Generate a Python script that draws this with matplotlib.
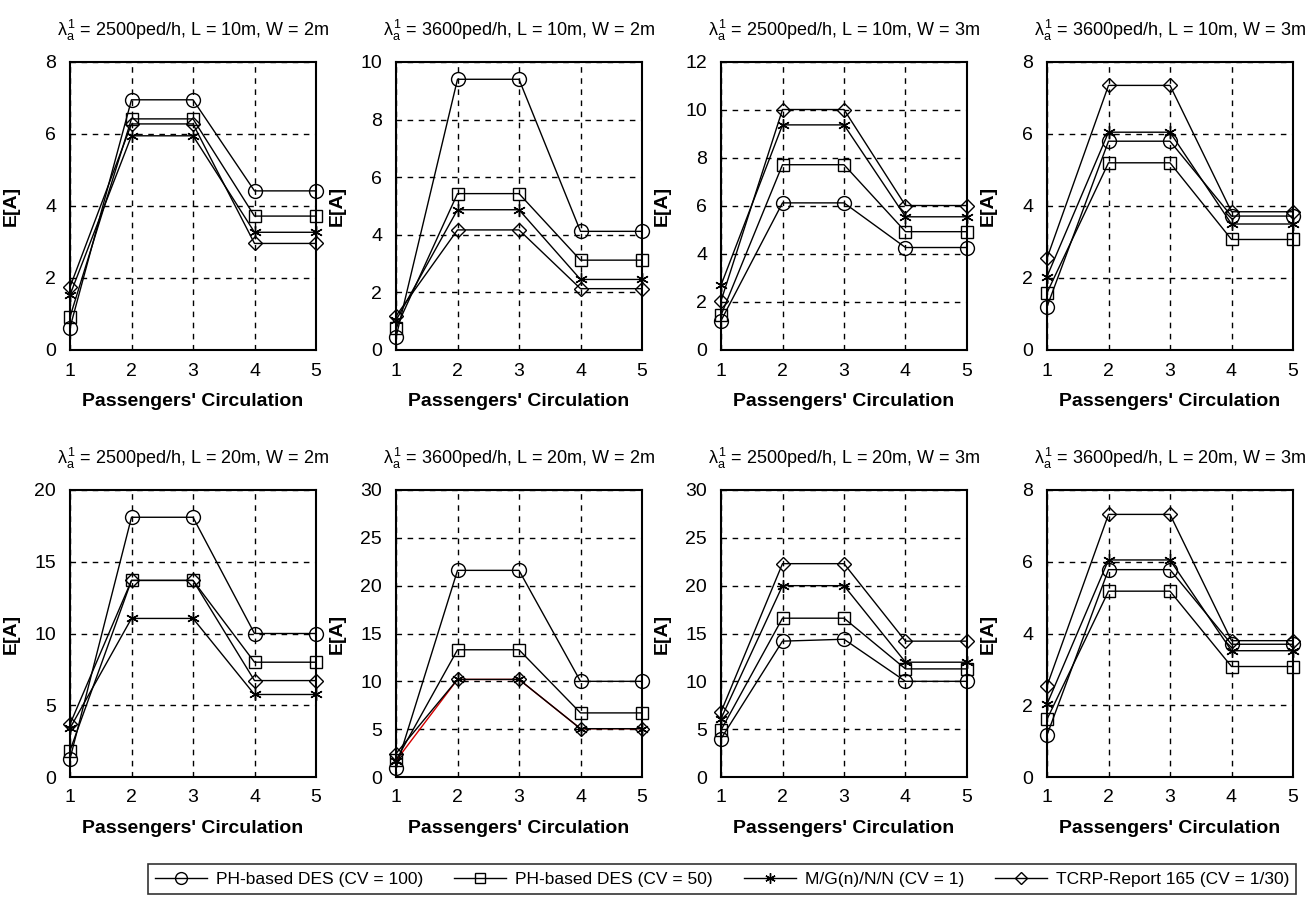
import matplotlib
matplotlib.use("Agg")
import matplotlib.pyplot as plt
from matplotlib.lines import Line2D

plt.rcParams['font.family'] = ['Liberation Sans', 'DejaVu Sans']
plt.rcParams['mathtext.fontset'] = 'custom'
plt.rcParams['mathtext.rm'] = 'Liberation Sans'
plt.rcParams['mathtext.it'] = 'Liberation Sans'

x = [1, 2, 3, 4, 5]
titles = [
    r"$\lambda_a^1$ = 2500ped/h, L = 10m, W = 2m",
    r"$\lambda_a^1$ = 3600ped/h, L = 10m, W = 2m",
    r"$\lambda_a^1$ = 2500ped/h, L = 10m, W = 3m",
    r"$\lambda_a^1$ = 3600ped/h, L = 10m, W = 3m",
    r"$\lambda_a^1$ = 2500ped/h, L = 20m, W = 2m",
    r"$\lambda_a^1$ = 3600ped/h, L = 20m, W = 2m",
    r"$\lambda_a^1$ = 2500ped/h, L = 20m, W = 3m",
    r"$\lambda_a^1$ = 3600ped/h, L = 20m, W = 3m",
]
ymax = [8, 10, 12, 8, 20, 30, 30, 8]
ystep = [2, 2, 2, 2, 5, 5, 5, 2]

series_names = ["PH-based DES (CV = 100)", "PH-based DES (CV = 50)",
                "M/G(n)/N/N (CV = 1)", "TCRP-Report 165 (CV = 1/30)"]

ph100 = [
    [0.62, 6.95, 6.95, 4.42, 4.42],
    [0.44, 9.40, 9.40, 4.12, 4.12],
    [1.22, 6.13, 6.13, 4.27, 4.27],
    [1.20, 5.80, 5.80, 3.72, 3.72],
    [1.26, 18.1, 18.1, 10.0, 10.0],
    [0.95, 21.6, 21.6, 10.0, 10.0],
    [4.0, 14.2, 14.4, 10.0, 10.0],
    [1.17, 5.78, 5.78, 3.70, 3.70],
]
ph50 = [
    [0.92, 6.42, 6.42, 3.72, 3.72],
    [0.75, 5.43, 5.43, 3.12, 3.12],
    [1.45, 7.72, 7.72, 4.93, 4.93],
    [1.59, 5.20, 5.20, 3.07, 3.07],
    [1.84, 13.7, 13.7, 8.0, 8.0],
    [1.74, 13.3, 13.3, 6.7, 6.7],
    [4.9, 16.6, 16.6, 11.3, 11.3],
    [1.61, 5.18, 5.18, 3.08, 3.08],
]
mgnn = [
    [1.53, 5.95, 5.95, 3.27, 3.27],
    [1.03, 4.87, 4.87, 2.45, 2.45],
    [2.70, 9.38, 9.38, 5.55, 5.55],
    [2.04, 6.05, 6.05, 3.50, 3.50],
    [3.40, 11.05, 11.05, 5.75, 5.75],
    [1.70, 10.2, 10.2, 5.05, 5.05],
    [6.1, 20.0, 20.0, 12.0, 12.0],
    [2.03, 6.05, 6.05, 3.52, 3.52],
]
tcrp = [
    [1.75, 6.28, 6.28, 2.96, 2.96],
    [1.18, 4.17, 4.17, 2.13, 2.13],
    [2.04, 10.02, 10.02, 6.02, 6.02],
    [2.55, 7.35, 7.35, 3.84, 3.84],
    [3.68, 13.7, 13.7, 6.72, 6.72],
    [2.45, 10.2, 10.2, 5.05, 5.05],
    [6.8, 22.3, 22.3, 14.2, 14.2],
    [2.54, 7.32, 7.32, 3.80, 3.80],
]

markers = ['o', 's', (6, 2, 0), 'D']
msizes = [10, 9, 9, 7.5]
all_series = [ph100, ph50, mgnn, tcrp]

fig = plt.figure(figsize=(13.09, 8.98), dpi=100)
W, H = 1309.0, 898.0
lefts = [70, 396, 721, 1047]
width = 246
rows = [(62, 350), (490, 777)]

for i in range(8):
    r, c = divmod(i, 4)
    top, bot = rows[r]
    ax = fig.add_axes([lefts[c] / W, 1 - bot / H, width / W, (bot - top) / H])
    for k, data in enumerate(all_series):
        color = 'k'
        z = 3 + k
        if i == 5 and k == 2:
            color = '#d40000'
            z = 2.5
        ax.plot(x, data[i], color=color, lw=1.0, marker=markers[k],
                markersize=msizes[k], markerfacecolor='none',
                markeredgecolor='k', markeredgewidth=1.0,
                clip_on=False, zorder=z)
    ax.set_xlim(1, 5)
    ax.set_ylim(0, ymax[i])
    ax.set_xticks(x)
    ax.set_yticks(range(0, ymax[i] + 1, ystep[i]))
    ax.grid(True, color='k', linestyle=(0, (4, 4)), lw=1.0)
    ax.set_axisbelow(True)
    for s in ax.spines.values():
        s.set_linewidth(1.5)
    ax.tick_params(labelsize=14, length=0)
    ax.tick_params(axis='x', pad=9)
    ax.tick_params(axis='y', pad=10)
    ax.set_title(titles[i], fontsize=13, pad=19)
    ax.set_xlabel("Passengers' Circulation", fontsize=14, fontweight='bold', labelpad=10)
    ax.set_ylabel("E[A]", fontsize=14, fontweight='bold')
    ax.yaxis.set_label_coords(-50 / width, 0.5)

leg_handles = [Line2D([0], [0], color='k', lw=1.0, marker=markers[k], markersize=msizes[k] - 1.5,
                      markerfacecolor='none', markeredgecolor='k') for k in range(4)]
leg = fig.legend(leg_handles, series_names, loc='center',
                 bbox_to_anchor=(722 / W, 1 - 879 / H), ncol=4, frameon=True,
                 fancybox=False, edgecolor='k', fontsize=12.5, handlelength=3.0,
                 columnspacing=1.8, handletextpad=0.5, borderpad=0.4,
                 borderaxespad=0)
leg.get_frame().set_linewidth(1.2)

fig.savefig("out.png", dpi=100)
